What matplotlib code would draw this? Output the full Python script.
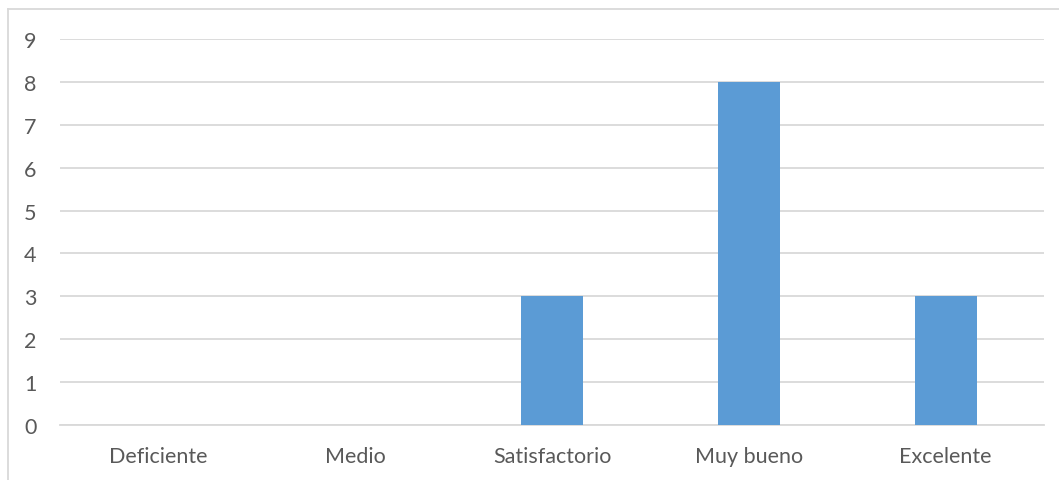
import matplotlib.pyplot as plt
from matplotlib.lines import Line2D

categorias = ["Deficiente", "Medio", "Satisfactorio", "Muy bueno", "Excelente"]
valores = [0, 0, 3, 8, 3]

plt.rcParams['font.family'] = ['Lato', 'DejaVu Sans']

fig = plt.figure(figsize=(10.59, 4.81), dpi=100)
ax = fig.add_axes([60 / 1059, 1 - 426 / 481, (1044 - 60) / 1059, (426 - 40) / 481])

x = range(len(categorias))
ax.bar(x, valores, width=0.315, color='#5B9BD5', zorder=3)
ax.set_xlim(-0.5, len(categorias) - 0.5)
ax.set_ylim(0, 9)
ax.set_yticks(range(10))
ax.set_xticks(list(x))
ax.set_xticklabels(categorias)
ax.grid(axis='y', color='#D9D9D9', linewidth=1.3, zorder=0)
for s in ['top', 'right', 'left']:
    ax.spines[s].set_visible(False)
ax.spines['bottom'].set_color('#D9D9D9')
ax.spines['bottom'].set_linewidth(1.3)
ax.tick_params(axis='both', length=0, labelsize=15.5, colors='#595959')
ax.tick_params(axis='y', pad=17)
ax.tick_params(axis='x', pad=15)

# marco del grafico
fig.add_artist(Line2D([8 / 1059, 8 / 1059], [0, 1 - 10 / 481], color='#D9D9D9', lw=1.3))
fig.add_artist(Line2D([8 / 1059, 1], [1 - 10 / 481, 1 - 10 / 481], color='#D9D9D9', lw=1.3))

plt.savefig("out.png")
